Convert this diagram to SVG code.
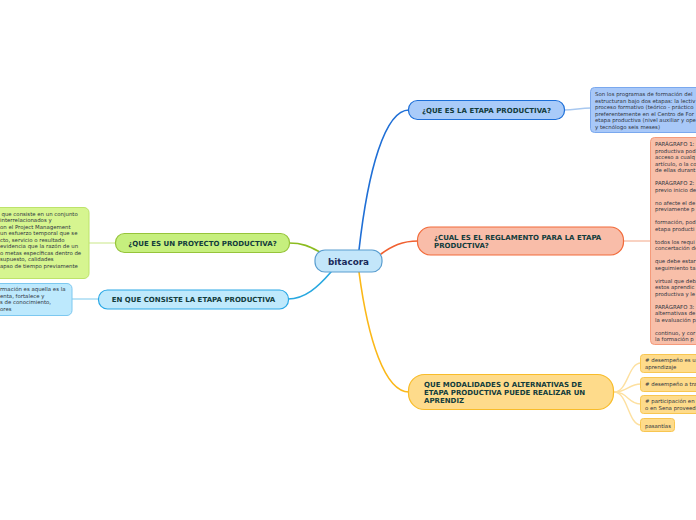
<svg xmlns="http://www.w3.org/2000/svg" width="696" height="520" viewBox="0 0 696 520">
<style>
.lbl{font-family:"DejaVu Sans",Verdana,sans-serif;font-weight:bold;font-size:7px;fill:#123c3c}
.det{font-family:"DejaVu Sans",Verdana,sans-serif;font-size:5.4px;fill:#2e3440}
.c{fill:none;stroke-width:1.6;stroke-linecap:round}
.t{fill:none;stroke-width:1.4;stroke-linecap:round}
</style>
<rect width="696" height="520" fill="#ffffff"/>
<g id="connectors">
<path class="c" d="M359,250 C368,170 385,110 409,110" stroke="#1f6fd6"/>
<path class="c" d="M381,254 C392,246 402,241 418,241" stroke="#f06030"/>
<path class="c" d="M359,272 C368,340 385,392 409,392" stroke="#fbb818"/>
<path class="c" d="M289,243 C305,243 312,248 322,253" stroke="#8cbc20"/>
<path class="c" d="M331,272 C318,287 305,299 288,299" stroke="#28a8e0"/>
<path class="t" d="M564,110 C575,110 580,108 591,108" stroke="#a8c8f0"/>
<path class="t" d="M624,241 L650,241" stroke="#f8c4ae"/>
<path class="t" d="M115,243 L89,243" stroke="#dcf0b0"/>
<path class="t" d="M98,299 L72,299" stroke="#a8dcf4"/>
<path class="t" d="M614,392 C628,392 628,363 641,363" stroke="#fde0a0"/>
<path class="t" d="M614,392 C628,392 628,384 641,384" stroke="#fde0a0"/>
<path class="t" d="M614,392 C628,392 628,404 641,404" stroke="#fde0a0"/>
<path class="t" d="M614,392 C628,392 628,425 641,425" stroke="#fde0a0"/>
</g>
<g id="center">
<rect x="315" y="250" width="67" height="22" rx="10" fill="#c3e6fa" stroke="#5a9ed0" stroke-width="1.2"/>
<text x="348.5" y="264.5" text-anchor="middle" style="font-family:'DejaVu Sans',Verdana,sans-serif;font-weight:bold;font-size:8.8px;fill:#1a2a5a">bitacora</text>
</g>
<g id="n-etapa">
<rect x="408.5" y="100.5" width="156" height="19" rx="9" fill="#a9cbf9" stroke="#1d6fd8" stroke-width="1.2"/>
<text class="lbl" x="486.5" y="112.5" text-anchor="middle">¿QUE ES LA ETAPA PRODUCTIVA?</text>
</g>
<g id="d-etapa">
<rect x="590.5" y="87.5" width="115" height="45" rx="4" fill="#a8c8f8" stroke="#7aa8ee" stroke-width="1"/>
<text class="det" x="595" y="96">Son los programas de formación del</text>
<text class="det" x="595" y="102.5">estructuran bajo dos etapas: la lectiv</text>
<text class="det" x="595" y="109">proceso formativo (teórico - práctico</text>
<text class="det" x="595" y="115.5">preferentemente en el Centro de For</text>
<text class="det" x="595" y="122">etapa productiva (nivel auxiliar y ope</text>
<text class="det" x="595" y="128.5">y tecnólogo seis meses)</text>
</g>
<g id="n-reglamento">
<rect x="417.5" y="227" width="206" height="28" rx="13" fill="#f9bda9" stroke="#f26b3a" stroke-width="1.2"/>
<text class="lbl" x="434" y="240">¿CUAL ES EL REGLAMENTO PARA LA ETAPA</text>
<text class="lbl" x="434" y="248.3">PRODUCTIVA?</text>
</g>
<g id="d-reglamento">
<rect x="650.5" y="137.5" width="60" height="207" rx="4" fill="#f8bfa9" stroke="#f59a7a" stroke-width="1"/>
<text class="det" x="655" y="146">PARÁGRAFO 1:</text>
<text class="det" x="655" y="152.5">productiva pod</text>
<text class="det" x="655" y="159">acceso a cualq</text>
<text class="det" x="655" y="165.5">artículo, o la co</text>
<text class="det" x="655" y="172">de ellas durant</text>
<text class="det" x="655" y="185">PARÁGRAFO 2:</text>
<text class="det" x="655" y="191.5">previo inicio de</text>
<text class="det" x="655" y="204.5">no afecte el de</text>
<text class="det" x="655" y="211">previamente p</text>
<text class="det" x="655" y="224">formación, pod</text>
<text class="det" x="655" y="230.5">etapa producti</text>
<text class="det" x="655" y="243.5">todos los requi</text>
<text class="det" x="655" y="250">concertación de</text>
<text class="det" x="655" y="263">que debe estar</text>
<text class="det" x="655" y="269.5">seguimiento ta</text>
<text class="det" x="655" y="282.5">virtual que deb</text>
<text class="det" x="655" y="289">estos aprendic</text>
<text class="det" x="655" y="295.5">productiva y le</text>
<text class="det" x="655" y="308.5">PARÁGRAFO 3:</text>
<text class="det" x="655" y="315">alternativas de</text>
<text class="det" x="655" y="321.5">la evaluación p</text>
<text class="det" x="655" y="334.5">continuo, y cor</text>
<text class="det" x="655" y="341">la formación p</text>
</g>
<g id="n-modalidades">
<rect x="408.5" y="374.5" width="205" height="35" rx="16" fill="#fedb8b" stroke="#f8bc2a" stroke-width="1.2"/>
<text class="lbl" x="424" y="386.5">QUE MODALIDADES O ALTERNATIVAS DE</text>
<text class="lbl" x="424" y="394.8">ETAPA PRODUCTIVA PUEDE REALIZAR UN</text>
<text class="lbl" x="424" y="403.1">APRENDIZ</text>
</g>
<g id="d-mod1">
<rect x="640.5" y="354.5" width="70" height="18" rx="3" fill="#fedb8b" stroke="#f8c650" stroke-width="1"/>
<text class="det" x="645" y="362">#  desempeño es u</text>
<text class="det" x="645" y="368.5">aprendizaje</text>
</g>
<g id="d-mod2">
<rect x="640.5" y="377.5" width="70" height="14" rx="3" fill="#fedb8b" stroke="#f8c650" stroke-width="1"/>
<text class="det" x="645" y="386">#  desempeño a tra</text>
</g>
<g id="d-mod3">
<rect x="640.5" y="395.5" width="70" height="18" rx="3" fill="#fedb8b" stroke="#f8c650" stroke-width="1"/>
<text class="det" x="645" y="403">#  participación  en</text>
<text class="det" x="645" y="409.5">o en Sena proveed</text>
</g>
<g id="d-mod4">
<rect x="640.5" y="418.5" width="34" height="13" rx="3" fill="#fedb8b" stroke="#f8c650" stroke-width="1"/>
<text class="det" x="645" y="427.5">pasantías</text>
</g>
<g id="n-proyecto">
<rect x="115.5" y="233.5" width="174" height="19" rx="9" fill="#c6ef7e" stroke="#96c43a" stroke-width="1.2"/>
<text class="lbl" x="202.5" y="245.5" text-anchor="middle">¿QUE ES UN PROYECTO PRODUCTIVA?</text>
</g>
<g id="d-proyecto">
<rect x="-10" y="207.5" width="99" height="71" rx="5" fill="#d6f590" stroke="#bde36a" stroke-width="1"/>
<text class="det" x="1.5" y="215.5">que consiste en un conjunto</text>
<text class="det" x="0" y="222">interrelacionados y</text>
<text class="det" x="0" y="228.5">on el Project Management</text>
<text class="det" x="0" y="235">un esfuerzo temporal que se</text>
<text class="det" x="0" y="241.5">cto, servicio o resultado</text>
<text class="det" x="0" y="248">evidencia que la razón de un</text>
<text class="det" x="0" y="254.5">o metas específicas dentro de</text>
<text class="det" x="0" y="261">supuesto, calidades</text>
<text class="det" x="0" y="267.5">apso de tiempo previamente</text>
</g>
<g id="n-consiste">
<rect x="98.5" y="290" width="190" height="19" rx="9" fill="#bfe9fc" stroke="#2aa8e6" stroke-width="1.2"/>
<text class="lbl" x="193.5" y="302" text-anchor="middle">EN QUE CONSISTE LA ETAPA PRODUCTIVA</text>
</g>
<g id="d-consiste">
<rect x="-10" y="283.5" width="82" height="32" rx="5" fill="#bde9fd" stroke="#7cc8f0" stroke-width="1"/>
<text class="det" x="0" y="291">rmación es aquella es la</text>
<text class="det" x="0" y="297.5">enta, fortalece y</text>
<text class="det" x="0" y="304">s de conocimiento,</text>
<text class="det" x="0" y="310.5">ores</text>
</g>
</svg>
